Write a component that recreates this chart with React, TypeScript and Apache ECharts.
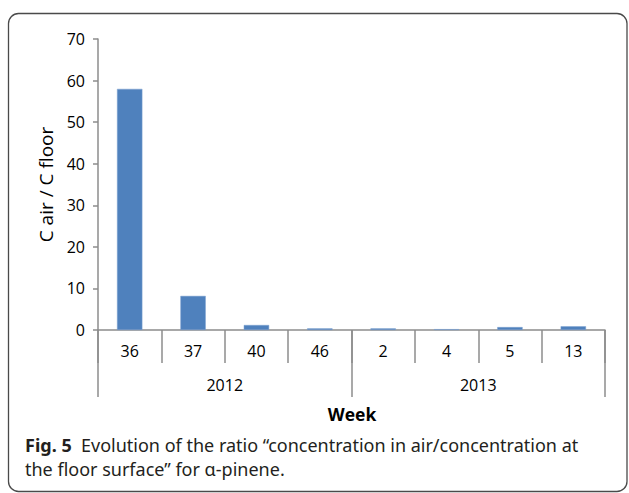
import React, { useEffect, useRef } from "react";
import * as echarts from "echarts";

const weeks = ["36", "37", "40", "46", "2", "4", "5", "13"];
const years = ["2012", "2013"];
const ratios = [58, 8.2, 1.2, 0.4, 0.4, 0.2, 0.7, 0.9];
const yTicks = { min: 0, max: 70, interval: 10 };
const yTitle = "C air / C floor";
const xTitle = "Week";
const captionBold = "Fig. 5";
const captionLine1 = "Evolution of the ratio \u201cconcentration in air/concentration at";
const captionLine2 = "the floor surface\u201d for \u03b1-pinene.";

export default function App() {
  const ref = useRef<HTMLDivElement>(null);
  useEffect(() => {
    const chart = echarts.init(ref.current!, null, { renderer: "svg" });
    const axisFont = "Open Sans, Noto Sans, sans-serif";
    chart.setOption({
      animation: false,
      backgroundColor: "#ffffff",
      grid: { left: 98, right: 24, top: 39, bottom: 163, containLabel: false },
      xAxis: [
        {
          type: "category",
          data: weeks,
          position: "bottom",
          axisLine: { show: true, lineStyle: { color: "#8c8c8c", width: 1.5 } },
          axisTick: { show: true, length: 33, lineStyle: { color: "#8c8c8c", width: 1.5 } },
          axisLabel: { color: "#000", fontSize: 16, fontFamily: axisFont, margin: 13 },
        },
        {
          type: "category",
          data: years,
          position: "bottom",
          axisLine: { show: false },
          axisTick: { show: true, length: 67, lineStyle: { color: "#8c8c8c", width: 1.5 } },
          axisLabel: { color: "#000", fontSize: 16, fontFamily: axisFont, margin: 47 },
        },
      ],
      yAxis: {
        type: "value",
        min: yTicks.min,
        max: yTicks.max,
        interval: yTicks.interval,
        name: yTitle,
        nameLocation: "middle",
        nameGap: 40,
        nameTextStyle: { color: "#000", fontSize: 19, fontFamily: axisFont },
        axisLine: { show: true, lineStyle: { color: "#8c8c8c", width: 1.5 } },
        axisTick: { show: true, length: 5, lineStyle: { color: "#8c8c8c", width: 1.5 } },
        axisLabel: { color: "#000", fontSize: 16, fontFamily: axisFont, margin: 13 },
        splitLine: { show: false },
      },
      series: [
        {
          type: "bar",
          xAxisIndex: 0,
          data: ratios,
          barWidth: "40%",
          itemStyle: { color: "#4f81bd", borderColor: "#7fa3d0", borderWidth: 0.5 },
        },
      ],
      graphic: [
        {
          type: "rect",
          shape: { x: 8.5, y: 13.5, width: 618.5, height: 478, r: 10 },
          style: { fill: "none", stroke: "#4a4a4a", lineWidth: 1.3 },
          silent: true,
        },
        {
          type: "text",
          x: 352,
          y: 414,
          style: {
            text: xTitle,
            fill: "#000",
            font: "bold 17.5px Open Sans, Noto Sans, sans-serif",
            align: "center",
            verticalAlign: "middle",
          },
        },
        {
          type: "text",
          x: 25,
          y: 433,
          style: {
            text: "{b|" + captionBold + "}  " + captionLine1 + "\n" + captionLine2,
            fill: "#231f20",
            font: "18px Noto Sans, sans-serif",
            lineHeight: 24,
            rich: {
              b: { font: "bold 18px Noto Sans, sans-serif", fill: "#231f20", lineHeight: 24 },
            },
          },
        },
      ],
    });
    return () => chart.dispose();
  }, []);
  return <div ref={ref} style={{ width: 629, height: 493, position: "absolute", left: 0, top: 0 }} />;
}
